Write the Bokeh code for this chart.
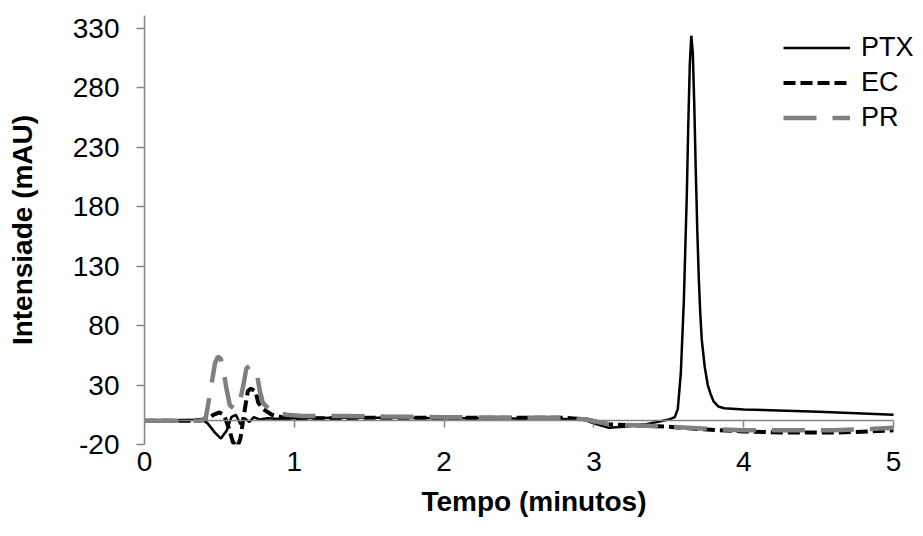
from bokeh.plotting import figure
from bokeh.models import (ColumnDataSource, LinearAxis, FixedTicker, Legend, LegendItem,
                          CustomJSTickFormatter, Range1d)
from bokeh.embed import file_html
from bokeh.resources import INLINE

# ---- data ----
ptx_t = [0, 0.2, 0.38, 0.42, 0.47, 0.51, 0.55, 0.58, 0.61, 0.64, 0.67, 0.70, 0.73, 0.77,
         0.82, 0.9, 1.0, 1.3, 1.6, 2.0, 2.4, 2.8, 2.93, 3.02, 3.1, 3.2, 3.35, 3.5, 3.54,
         3.56, 3.58, 3.60, 3.62, 3.63, 3.64, 3.65, 3.66, 3.67, 3.68, 3.69, 3.70, 3.71,
         3.72, 3.74, 3.76, 3.78, 3.80, 3.83, 3.87, 4.0, 4.5, 5.0]
ptx_v = [0, 0, 1, -2, -10, -15, -8, 3, 5, -3, 2, -1, 3, 1,
         2, 1.5, 2, 2.5, 2.5, 2, 2, 1.5, 1, -3, -6, -5, -3, 1, 3,
         10, 40, 100, 190, 250, 300, 324, 310, 265, 210, 160, 120, 90,
         68, 45, 30, 22, 16, 12, 10.5, 9.5, 7.5, 5]

ec_t = [0, 0.3, 0.42, 0.46, 0.50, 0.53, 0.56, 0.59, 0.62, 0.64, 0.67, 0.69, 0.71, 0.74,
        0.76, 0.79, 0.85, 0.95, 1.1, 1.5, 2.0, 2.5, 2.8, 2.95, 3.1, 3.3, 3.5, 3.7, 4.0,
        4.3, 4.6, 4.85, 5.0]
ec_v = [0, 0, 1, 5, 7, 5, -5, -18, -22, -15, 10, 25, 27, 25,
        15, 10, 5, 2, 2, 2.5, 2.5, 2.5, 2.5, 1, -3, -4, -5, -7, -9,
        -10, -10, -9, -8]

pr_t = [0, 0.38, 0.41, 0.44, 0.47, 0.49, 0.51, 0.53, 0.55, 0.57, 0.60, 0.63, 0.66, 0.68,
        0.70, 0.73, 0.75, 0.77, 0.79, 0.83, 0.88, 0.95, 1.05, 1.3, 1.6, 2.0, 2.5, 2.8,
        2.95, 3.1, 3.3, 3.5, 3.8, 4.0, 4.3, 4.6, 4.85, 5.0]
pr_v = [0, 0, 3, 25, 48, 54, 52, 40, 25, 13, 10, 12, 30, 44,
        46, 45, 40, 25, 15, 10, 7, 5, 4, 4, 3.5, 3, 2.5, 2.5,
        1, -3, -4, -5, -7, -8, -8, -8, -7, -6]

series_names = ["PTX", "EC", "PR"]
x_ticks = [0, 1, 2, 3, 4, 5]
y_ticks = [-20, 30, 80, 130, 180, 230, 280, 330]

AXIS_GRAY = "#868686"
FONT = "Liberation Sans"
plain = CustomJSTickFormatter(code="return String(tick)")

p = figure(width=923, height=536, output_backend="svg", toolbar_location=None,
           x_range=Range1d(0, 5.2), y_range=Range1d(-20, 341),
           min_border_left=144, min_border_right=0, min_border_top=15, min_border_bottom=92,
           x_axis_location=None, y_axis_location=None)
p.outline_line_color = None
p.xgrid.visible = False
p.ygrid.visible = False
p.background_fill_color = "white"
p.border_fill_color = "white"

# y axis
yax = LinearAxis(ticker=FixedTicker(ticks=y_ticks), formatter=plain)
yax.axis_line_color = AXIS_GRAY
yax.axis_line_width = 1.5
yax.major_tick_line_color = AXIS_GRAY
yax.major_tick_line_width = 1.5
yax.major_tick_out = 8
yax.major_tick_in = 0
yax.minor_tick_line_color = None
yax.major_label_standoff = 17
yax.major_label_text_font = FONT
yax.major_label_text_font_size = "28px"
yax.major_label_text_color = "black"
yax.axis_label = "Intensiade (mAU)"
yax.axis_label_text_font = FONT
yax.axis_label_text_font_style = "bold"
yax.axis_label_text_font_size = "28px"
yax.axis_label_text_color = "black"
yax.axis_label_standoff = 32
p.add_layout(yax, "left")

# x axis: labels only at bottom
xax = LinearAxis(ticker=FixedTicker(ticks=x_ticks), formatter=plain)
xax.axis_line_color = None
xax.major_tick_line_color = None
xax.major_tick_out = 0
xax.major_tick_in = 0
xax.minor_tick_line_color = None
xax.major_label_standoff = 7
xax.major_label_text_font = FONT
xax.major_label_text_font_size = "28px"
xax.major_label_text_color = "black"
xax.axis_label = "Tempo (minutos)"
xax.axis_label_text_font = FONT
xax.axis_label_text_font_style = "bold"
xax.axis_label_text_font_size = "28px"
xax.axis_label_text_color = "black"
xax.axis_label_standoff = 12
p.add_layout(xax, "below")

# zero line with ticks pointing down, bounded to the data span
zax = LinearAxis(ticker=FixedTicker(ticks=x_ticks), fixed_location=0,
                 bounds=(x_ticks[0], x_ticks[-1]),
                 formatter=CustomJSTickFormatter(code="return ''"))
zax.axis_line_color = AXIS_GRAY
zax.axis_line_width = 1.5
zax.major_tick_line_color = AXIS_GRAY
zax.major_tick_line_width = 1.5
zax.major_tick_in = 7
zax.major_tick_out = 0
zax.minor_tick_line_color = None
zax.major_label_standoff = 0
zax.major_label_text_font_size = "0px"
p.add_layout(zax, "above")

src_ptx = ColumnDataSource(dict(t=ptx_t, v=ptx_v))
src_ec = ColumnDataSource(dict(t=ec_t, v=ec_v))
src_pr = ColumnDataSource(dict(t=pr_t, v=pr_v))

r_ptx = p.line("t", "v", source=src_ptx, line_color="black", line_width=2.5)
r_ec = p.line("t", "v", source=src_ec, line_color="black", line_width=4, line_dash="12 5")
r_pr = p.line("t", "v", source=src_pr, line_color="#7f7f7f", line_width=4.5, line_dash="33 16")

legend = Legend(items=[LegendItem(label=series_names[0], renderers=[r_ptx]),
                       LegendItem(label=series_names[1], renderers=[r_ec]),
                       LegendItem(label=series_names[2], renderers=[r_pr])],
                location=(639, 309), orientation="vertical")
legend.background_fill_alpha = 0
legend.border_line_color = None
legend.padding = 0
legend.margin = 0
legend.spacing = 0
legend.glyph_width = 67
legend.glyph_height = 35
legend.label_height = 35
legend.label_standoff = 11
legend.label_text_font = FONT
legend.label_text_font_size = "27px"
legend.label_text_color = "black"
p.add_layout(legend, "center")

open("out.html", "w").write(file_html(p, INLINE))
